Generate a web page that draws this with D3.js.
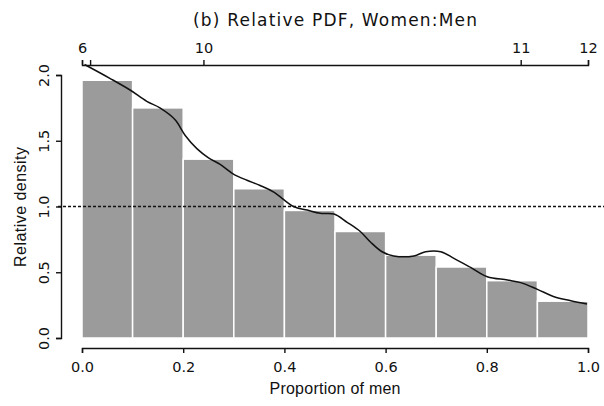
<!DOCTYPE html>
<html>
<head>
<meta charset="utf-8">
<script src="https://cdn.jsdelivr.net/npm/d3@7"></script>
<style>
  body { margin: 0; background: #fff; }
  text { fill: #111; }
</style>
</head>
<body>
<svg width="604" height="406"></svg>
<script>
// histogram of relative data, bins of width 0.1
const binEdges = [0, 0.1, 0.2, 0.3, 0.4, 0.5, 0.6, 0.7, 0.8, 0.9, 1.0];
const binDensity = [1.96, 1.75, 1.36, 1.135, 0.97, 0.81, 0.63, 0.54, 0.436, 0.28];

// smoothed relative density curve (proportion, density)
const curveP = [0.005, 0.055, 0.095, 0.128, 0.154, 0.184, 0.204, 0.227, 0.25, 0.273, 0.30, 0.326, 0.352, 0.379,
  0.418, 0.445, 0.471, 0.498, 0.524, 0.55, 0.57, 0.593, 0.616, 0.656, 0.679, 0.709, 0.735, 0.768, 0.801,
  0.841, 0.867, 0.90, 0.933, 0.966, 0.998];
const curveV = [2.08, 1.975, 1.886, 1.80, 1.75, 1.66, 1.54, 1.44, 1.37, 1.32, 1.245, 1.20, 1.16, 1.11,
  1.0, 0.973, 0.948, 0.943, 0.88, 0.81, 0.73, 0.656, 0.624, 0.624, 0.656, 0.656, 0.606, 0.537, 0.466,
  0.441, 0.421, 0.37, 0.314, 0.284, 0.259];

const xTicks = [0, 0.2, 0.4, 0.6, 0.8, 1.0];
const yTicks = [0, 0.5, 1.0, 1.5, 2.0];
// top axis: quantiles of the reference group
const topTickPos = [0, 0.016, 0.24, 0.867, 1.0];
const topTickLabels = ["6", "", "10", "11", "12"];

const sans = '"Liberation Sans", Arial, sans-serif';
const wide = '"DejaVu Sans", Verdana, sans-serif';

const svg = d3.select('svg');
const x = d3.scaleLinear().domain([0, 1]).range([82, 588]);
const y = d3.scaleLinear().domain([0, 2]).range([338, 75]);

// bars
svg.append('g')
  .selectAll('rect')
  .data(binDensity)
  .join('rect')
  .attr('x', (d, i) => x(binEdges[i]))
  .attr('y', d => y(d))
  .attr('width', (d, i) => x(binEdges[i + 1]) - x(binEdges[i]))
  .attr('height', d => y(0) - y(d))
  .attr('fill', '#9b9b9b')
  .attr('stroke', '#fff')
  .attr('stroke-width', 1.5);

// reference line at 1
svg.append('line')
  .attr('x1', 58).attr('x2', 604)
  .attr('y1', y(1)).attr('y2', y(1))
  .attr('stroke', '#111')
  .attr('stroke-width', 1.4)
  .attr('stroke-dasharray', '3,2');

// density curve
const line = d3.line()
  .x((d, i) => x(curveP[i]))
  .y(d => y(d))
  .curve(d3.curveCatmullRom);
svg.append('path')
  .attr('d', line(curveV))
  .attr('fill', 'none')
  .attr('stroke', '#111')
  .attr('stroke-width', 1.5);

function styleAxis(g) {
  g.select('.domain').attr('stroke', '#111').attr('stroke-width', 1.4);
  g.selectAll('.tick line').attr('stroke', '#111').attr('stroke-width', 1.4);
  g.selectAll('text')
    .style('font-family', wide)
    .style('font-size', '14.5px')
    .attr('fill', '#111');
}

// bottom axis
svg.append('g')
  .attr('transform', 'translate(0,348)')
  .call(d3.axisBottom(x).tickValues(xTicks).tickFormat(d3.format('.1f')).tickSizeOuter(0).tickSize(5).tickPadding(9))
  .call(styleAxis);

// left axis
svg.append('g')
  .attr('transform', 'translate(61,0)')
  .call(d3.axisLeft(y).tickValues(yTicks).tickFormat(d3.format('.1f')).tickSizeOuter(0).tickSize(5))
  .call(styleAxis)
  .selectAll('text')
  .attr('x', 0).attr('dy', 0)
  .attr('text-anchor', 'middle')
  .attr('transform', 'translate(-12,0) rotate(-90)');

// top axis (quantiles)
svg.append('g')
  .attr('transform', 'translate(0,65)')
  .call(d3.axisTop(x).tickValues(topTickPos).tickFormat((d, i) => topTickLabels[i]).tickSizeOuter(0).tickSize(5).tickPadding(7))
  .call(styleAxis);

// titles
svg.append('text')
  .attr('x', 335).attr('y', 26)
  .attr('text-anchor', 'middle')
  .style('font-family', wide)
  .style('font-size', '17px')
  .attr('textLength', 284)
  .attr('lengthAdjust', 'spacing')
  .text('(b) Relative PDF, Women:Men');

svg.append('text')
  .attr('x', 335).attr('y', 394)
  .attr('text-anchor', 'middle')
  .style('font-family', sans)
  .style('font-size', '16px')
  .attr('textLength', 131)
  .attr('lengthAdjust', 'spacing')
  .text('Proportion of men');

svg.append('text')
  .attr('transform', 'translate(26,207) rotate(-90)')
  .attr('text-anchor', 'middle')
  .style('font-family', sans)
  .style('font-size', '16px')
  .attr('textLength', 120)
  .attr('lengthAdjust', 'spacing')
  .text('Relative density');
</script>
</body>
</html>
